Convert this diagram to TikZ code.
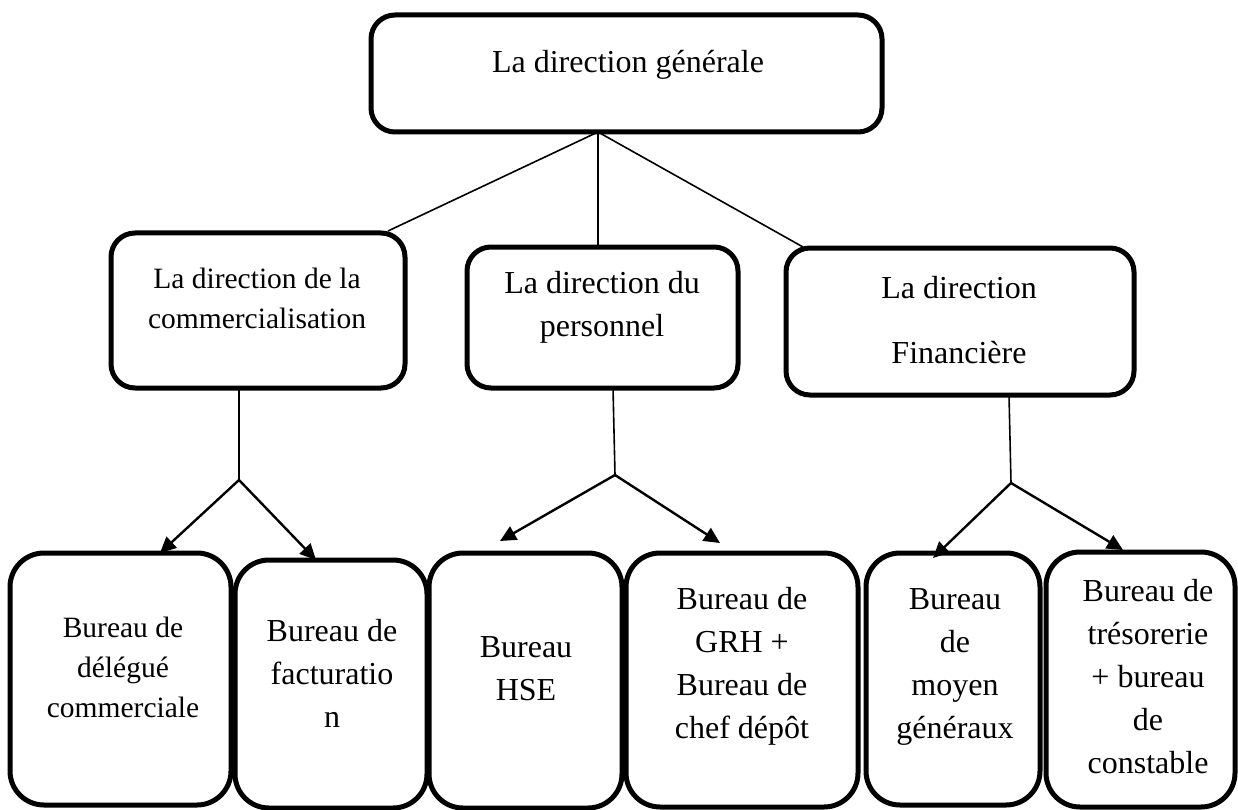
\documentclass[tikz,border=0pt]{standalone}
\usepackage{fontspec}
\setmainfont{Liberation Serif}
\usetikzlibrary{arrows.meta}
\begin{document}
\begin{tikzpicture}[x=1pt,y=-1pt,
  box/.style={draw, line width=5pt, rounded corners=24pt, inner sep=0pt},
  bbox/.style={box, rounded corners=34pt},
  lbl/.style={align=center, font=\fontsize{32}{43}\selectfont, inner sep=0pt},
  slbl/.style={lbl, font=\fontsize{29.5}{40}\selectfont},
  con/.style={line width=1.6pt},
  arr/.style={line width=2.4pt, -{Triangle[length=16pt,width=15pt]}}]
\useasboundingbox (0,0) rectangle (1238,810);
% boxes
\node[box, minimum width=511pt, minimum height=117pt] (top) at (626.5,73.5) {};
\node[box, minimum width=294pt, minimum height=155pt] (c1) at (258,310.5) {};
\node[box, minimum width=271pt, minimum height=141pt] (c2) at (602.5,317.5) {};
\node[box, minimum width=348pt, minimum height=147pt] (c3) at (960,321.5) {};
\node[bbox, minimum width=221pt, minimum height=252pt] (bA) at (120.5,679) {};
\node[bbox, minimum width=192pt, minimum height=248pt] (bB) at (331,684) {};
\node[bbox, minimum width=193pt, minimum height=255pt] (bC) at (525.5,680.5) {};
\node[bbox, minimum width=232pt, minimum height=254pt] (bD) at (742,680) {};
\node[bbox, minimum width=174pt, minimum height=252pt] (bE) at (953,679) {};
\node[bbox, minimum width=189pt, minimum height=255pt] (bF) at (1140.5,679.5) {};
% texts
\node[lbl] (tTop) at (628,65) {La direction générale};
\node[slbl] (t1) at (257,298) {La direction de la\\commercialisation};
\node[lbl] (t2) at (602,307) {La direction du\\personnel};
\node[lbl] (t3) at (959,320) {La direction\\[22pt]Financière};
\node[slbl] (tA) at (123,667) {Bureau de\\délégué\\commerciale};
\node[lbl] (tB) at (332,673) {Bureau de\\facturatio\\n};
\node[lbl] (tC) at (526,669) {Bureau\\HSE};
\node[lbl] (tD) at (742,666) {Bureau de\\GRH +\\Bureau de\\chef dépôt};
\node[lbl] (tE) at (955,667) {Bureau\\de\\moyen\\généraux};
\node[lbl] (tF) at (1148,677) {Bureau de\\trésorerie\\+ bureau\\de\\constable};
% connector points
\coordinate (h0) at (598,132);
\coordinate (e1) at (388,231);
\coordinate (e2) at (598,247);
\coordinate (e3) at (803,247);
\coordinate (s1) at (239,388);
\coordinate (j1) at (239,480);
\coordinate (a1) at (160,553);
\coordinate (a2) at (316,560);
\coordinate (s2) at (613,388);
\coordinate (j2) at (615,475);
\coordinate (a3) at (500,541);
\coordinate (a4) at (720,543);
\coordinate (s3) at (1009,395);
\coordinate (j3) at (1011,483);
\coordinate (a5) at (933,558);
\coordinate (a6) at (1123,550);
% connectors
\draw[con] (h0) -- (e1);
\draw[con] (h0) -- (e2);
\draw[con] (h0) -- (e3);
\draw[con] (s1) -- (j1);
\draw[arr] (j1) -- (a1);
\draw[arr] (j1) -- (a2);
\draw[con] (s2) -- (j2);
\draw[arr] (j2) -- (a3);
\draw[arr] (j2) -- (a4);
\draw[con] (s3) -- (j3);
\draw[arr] (j3) -- (a5);
\draw[arr] (j3) -- (a6);
\end{tikzpicture}
\end{document}
